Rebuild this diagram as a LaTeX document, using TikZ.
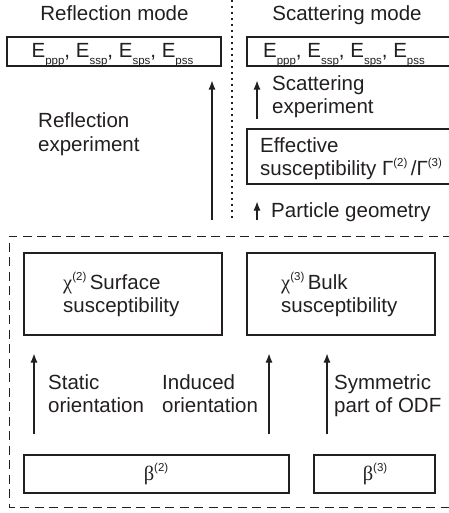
\documentclass[tikz,border=0pt]{standalone}
\usepackage{fontspec}
\setmainfont{Liberation Sans}
\newfontfamily\grk{Liberation Serif}
\usetikzlibrary{arrows.meta}
\definecolor{inkc}{RGB}{35,31,32}
\newcommand\supx[1]{\raisebox{0.42em}{\fontsize{11.5}{12}\selectfont #1}}
\newcommand\subx[1]{\raisebox{-0.3em}{\fontsize{11.5}{12}\selectfont #1}}
\begin{document}
\begin{tikzpicture}[x=1pt,y=-1pt,
  box/.style={draw=inkc, line width=1.1pt, inner sep=0pt},
  txt/.style={anchor=base west, inner sep=0pt, text=inkc, font=\fontsize{20.5}{24}\selectfont},
  ctxt/.style={anchor=base, inner sep=0pt, text=inkc, font=\fontsize{20.5}{24}\selectfont},
  arr/.style={-{Latex[length=9pt,width=7pt]}, line width=1.1pt, draw=inkc},
  dotline/.style={draw=inkc, line width=1.2pt, dash pattern=on 2.4pt off 3.6pt},
  dashline/.style={draw=inkc, line width=1pt, dash pattern=on 9pt off 5.5pt}
]
\useasboundingbox (0,0) rectangle (448,513);
% titles
\node[ctxt] (t1) at (114.5,20.5) {Reflection mode};
\node[ctxt] (t2) at (347,20.5) {Scattering mode};
% dotted separator
\coordinate (d1) at (232,0);
\coordinate (d2) at (232,221);
\draw[dotline] (d1) -- (d2);
% E boxes
\node[box, minimum width=214pt, minimum height=29pt] (eL) at (114,51.5) {};
\node[box, minimum width=203pt, minimum height=29pt] (eR) at (348.5,51.5) {};
\node[ctxt] (eLt) at (112.5,58) {E\subx{ppp}, E\subx{ssp}, E\subx{sps}, E\subx{pss}};
\node[ctxt] (eRt) at (344,58) {E\subx{ppp}, E\subx{ssp}, E\subx{sps}, E\subx{pss}};
% effective susceptibility box
\node[box, minimum width=203pt, minimum height=55pt] (ef) at (348.5,156.5) {};
\node[txt] (ef1) at (260,152.5) {Effective};
\node[txt] (ef2) at (260,175.5) {susceptibility Γ\supx{(2)}\,/Γ\supx{(3)}};
% reflection arrow
\coordinate (r1) at (212,220);
\draw[arr, shorten >=14pt] (r1) -- (r1 |- eL.south);
\node[txt] (rl1) at (38,128) {Reflection};
\node[txt] (rl2) at (38,151) {experiment};
% scattering arrow
\coordinate (s1) at (257,119);
\draw[arr, shorten >=14pt] (s1) -- (s1 |- eR.south);
\node[txt] (sl1) at (272,91) {Scattering};
\node[txt] (sl2) at (272,114) {experiment};
% particle geometry arrow
\coordinate (p1) at (257,220);
\draw[arr, shorten >=17pt] (p1) -- (p1 |- ef.south);
\node[txt] (pl) at (271,217) {Particle geometry};
% dashed frame
\draw[dashline] (452,236) -- (9,236) -- (9,507) -- (452,507);
% chi boxes
\node[box, minimum width=198pt, minimum height=82pt] (c2) at (123,294) {};
\node[box, minimum width=188pt, minimum height=82pt] (c3) at (341,294) {};
\node[txt] (c2a) at (63,289) {{\grk χ}\supx{(2)}\,Surface};
\node[txt] (c2b) at (63,312) {susceptibility};
\node[txt] (c3a) at (281,289) {{\grk χ}\supx{(3)}\,Bulk};
\node[txt] (c3b) at (281,312) {susceptibility};
% beta boxes
\node[box, minimum width=265pt, minimum height=38pt] (b2) at (156.5,474) {};
\node[box, minimum width=121pt, minimum height=38pt] (b3) at (374.5,474) {};
\node[ctxt] (b2t) at (156,480) {{\grk β}\supx{(2)}};
\node[ctxt] (b3t) at (375,480) {{\grk β}\supx{(3)}};
% lower arrows
\coordinate (x1) at (34,0);
\coordinate (x2) at (269,0);
\coordinate (x3) at (327,0);
\draw[arr, shorten <=20pt, shorten >=18pt] (x1 |- b2.north) -- (x1 |- c2.south);
\draw[arr, shorten <=20pt, shorten >=18pt] (x2 |- b2.north) -- (x2 |- c3.south);
\draw[arr, shorten <=20pt, shorten >=18pt] (x3 |- b3.north) -- (x3 |- c3.south);
\node[txt] (l1a) at (48,389) {Static};
\node[txt] (l1b) at (48,412) {orientation};
\node[txt] (l2a) at (162,389) {Induced};
\node[txt] (l2b) at (162,412) {orientation};
\node[txt] (l3a) at (334,389) {Symmetric};
\node[txt] (l3b) at (334,412) {part of ODF};
\end{tikzpicture}
\end{document}
